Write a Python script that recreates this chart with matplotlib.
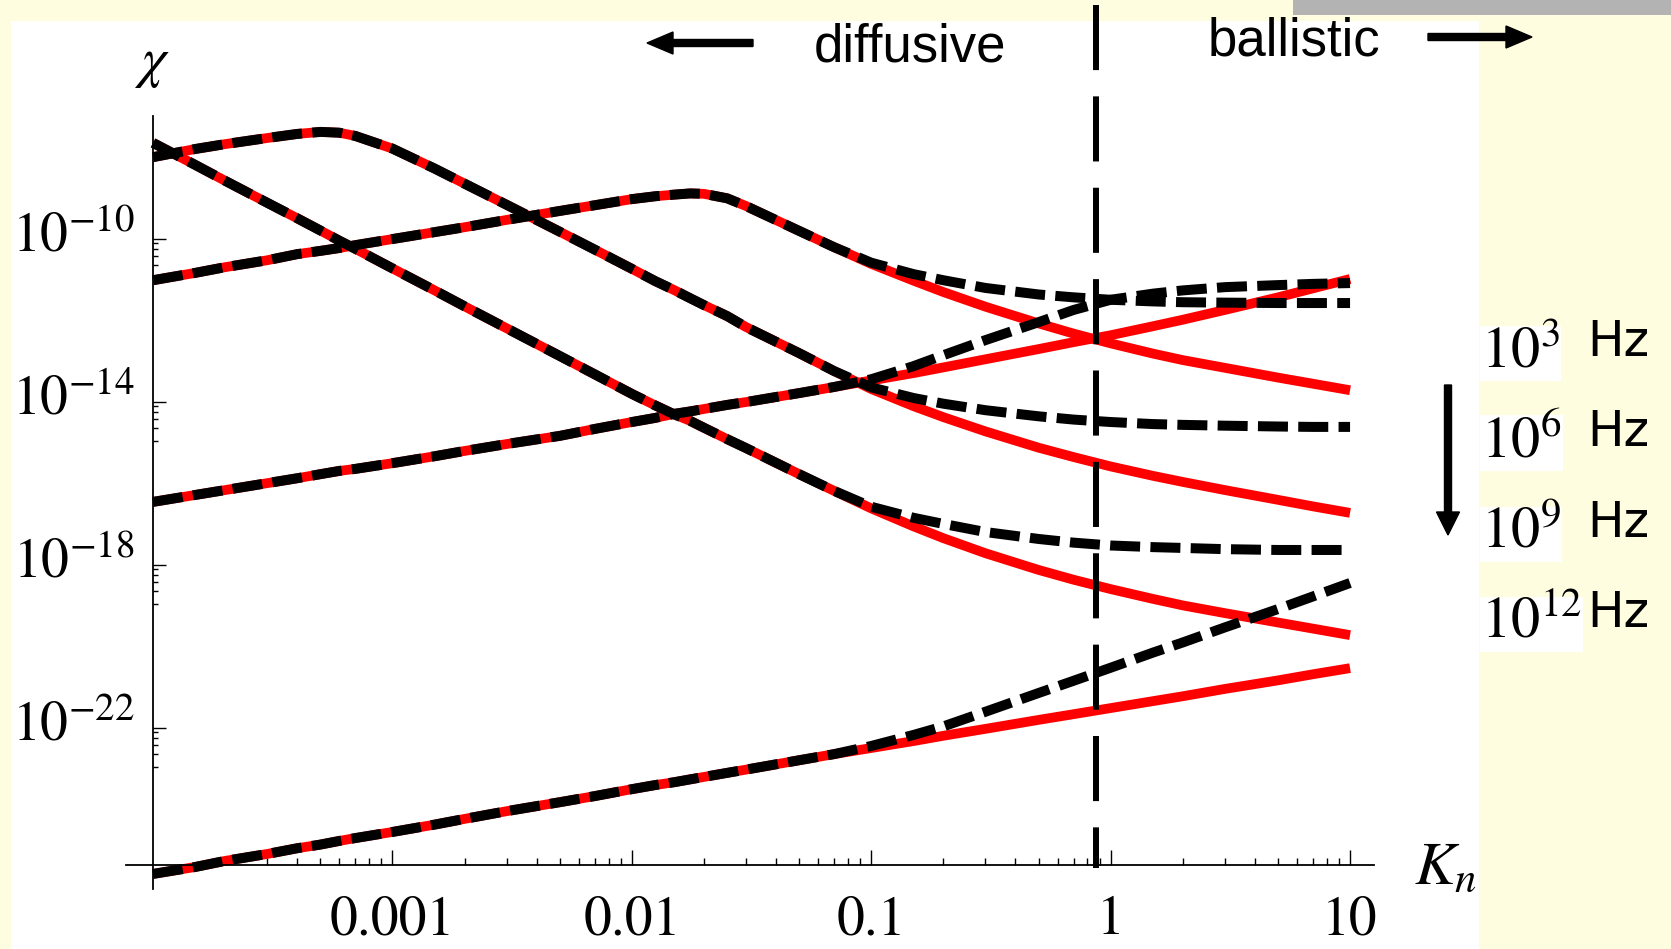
import matplotlib
matplotlib.use("Agg")
import matplotlib.pyplot as plt
import numpy as np
from matplotlib.patches import Rectangle, FancyArrow
from matplotlib.transforms import IdentityTransform, ScaledTranslation
from matplotlib.ticker import FixedLocator, FixedFormatter, NullFormatter

plt.rcParams['mathtext.fontset'] = 'stix'
plt.rcParams['font.family'] = ['STIXGeneral', 'DejaVu Sans']

W, H = 1671, 949

# Knudsen number grid (shared by all curves)
kn = [1e-4, 1.5e-4, 2e-4, 3e-4, 4e-4, 5e-4, 6e-4, 7e-4,
      1e-3, 1.5e-3, 2e-3, 3e-3, 5e-3, 7e-3,
      1e-2, 1.25e-2, 1.5e-2, 1.75e-2, 2e-2, 2.5e-2, 3e-2, 5e-2, 7e-2,
      0.1, 0.15, 0.2, 0.3, 0.5, 0.7, 1, 1.5, 2, 3, 5, 7, 10]

# log10(chi); the two models coincide up to Kn = 0.07, then split
c1_common = [-7.64, -8.18, -8.57, -9.11, -9.49, -9.79, -10.04, -10.24, -10.72, -11.26, -11.65, -12.19,
             -12.87, -13.32, -13.80, -14.08, -14.30, -14.46, -14.63, -14.91, -15.13, -15.77, -16.18]
c1_red = [-16.61, -17.05, -17.34, -17.71, -18.12, -18.36, -18.59, -18.83, -18.99, -19.18, -19.41, -19.56, -19.72]
c1_black = [-16.57, -16.84, -16.99, -17.19, -17.36, -17.45, -17.52, -17.56, -17.58, -17.61, -17.63, -17.63, -17.63]

c2_common = [-7.99, -7.79, -7.67, -7.52, -7.42, -7.37, -7.39, -7.47, -7.78, -8.27, -8.64, -9.16,
             -9.82, -10.26, -10.73, -11.03, -11.25, -11.45, -11.62, -11.89, -12.16, -12.80, -13.24]
c2_red = [-13.68, -14.10, -14.37, -14.72, -15.12, -15.35, -15.58, -15.81, -15.96, -16.16, -16.40, -16.56, -16.72]
c2_black = [-13.64, -13.90, -14.04, -14.20, -14.35, -14.43, -14.49, -14.54, -14.56, -14.58, -14.60, -14.61, -14.61]

c3_common = [-11.01, -10.83, -10.69, -10.52, -10.37, -10.29, -10.22, -10.15, -10.00, -9.83, -9.71, -9.53,
             -9.31, -9.17, -9.02, -8.95, -8.91, -8.88, -8.89, -9.00, -9.19, -9.80, -10.20]
c3_red = [-10.61, -11.02, -11.30, -11.66, -12.07, -12.32, -12.56, -12.81, -12.97, -13.16, -13.40, -13.55, -13.71]
c3_black = [-10.58, -10.86, -11.01, -11.20, -11.36, -11.43, -11.49, -11.53, -11.55, -11.56, -11.57, -11.57, -11.57]

c4_common = [-16.45, -16.28, -16.16, -15.99, -15.87, -15.77, -15.69, -15.64, -15.50, -15.33, -15.20, -15.03,
             -14.83, -14.66, -14.49, -14.39, -14.29, -14.23, -14.17, -14.07, -14.00, -13.78, -13.63]
c4_red = [-13.47, -13.29, -13.15, -12.95, -12.70, -12.53, -12.36, -12.14, -11.98, -11.74, -11.43, -11.21, -10.98]
c4_black = [-13.44, -13.12, -12.85, -12.48, -12.04, -11.74, -11.49, -11.34, -11.26, -11.18, -11.13, -11.10, -11.08]

c5_common = [-25.58, -25.41, -25.26, -25.09, -24.95, -24.86, -24.77, -24.70, -24.55, -24.37, -24.23, -24.04,
             -23.82, -23.67, -23.50, -23.40, -23.33, -23.26, -23.20, -23.10, -23.02, -22.79, -22.64]
c5_red = [-22.49, -22.32, -22.19, -22.02, -21.80, -21.66, -21.51, -21.34, -21.22, -21.04, -20.83, -20.68, -20.53]
c5_black = [-22.44, -22.17, -21.96, -21.60, -21.14, -20.84, -20.52, -20.15, -19.90, -19.53, -19.08, -18.77, -18.44]

curves = [(c1_common, c1_red, c1_black), (c2_common, c2_red, c2_black), (c3_common, c3_red, c3_black),
          (c4_common, c4_red, c4_black), (c5_common, c5_red, c5_black)]

kn_boundary = 0.87
x_ticks = [1e-3, 1e-2, 0.1, 1, 10]
x_labels = ['0.001', '0.01', '0.1', '1', '10']
y_ticks = [1e-10, 1e-14, 1e-18, 1e-22]
y_labels = [r'$10^{-10}$', r'$10^{-14}$', r'$10^{-18}$', r'$10^{-22}$']
y_minor_offsets = [0.105, 0.253, 0.425, 0.64, 0.96]  # decades below each labelled tick
freq_labels = [r'$10^{3}$', r'$10^{6}$', r'$10^{9}$', r'$10^{12}$']


def fx(x):
    return x / W


def fy(y):
    return 1 - y / H


fig = plt.figure(figsize=(W / 100, H / 100), dpi=100)
fig.patch.set_facecolor('#FFFDE0')
fig.add_artist(Rectangle((fx(11), 0), (1479 - 11) / W, (H - 21) / H, transform=fig.transFigure,
                         facecolor='white', edgecolor='none', zorder=0))
fig.add_artist(Rectangle((fx(1293), fy(15)), (W - 1293) / W, 15 / H, transform=fig.transFigure,
                         facecolor='#B3B3B3', edgecolor='none', zorder=0))

ax = fig.add_axes([126 / W, (H - 889) / H, 1248 / W, 773 / H])
ax.patch.set_alpha(0)
ax.set_xscale('log')
ax.set_yscale('log')
ax.set_xlim(10 ** -4.113, 10 ** 1.10)
ax.set_ylim(10 ** -25.95, 10 ** -6.98)

knx = np.array(kn)
for common, red, black in curves:
    yr = 10 ** np.array(common + red)
    yb = 10 ** np.array(common + black)
    ax.plot(knx, yr, color='red', lw=7, solid_capstyle='butt', solid_joinstyle='round', zorder=2)
    ax.plot(knx, yb, color='black', lw=7.2, dashes=(3.0, 1.03), dash_capstyle='butt',
            dash_joinstyle='round', zorder=3)

# diffusive / ballistic boundary
ax.plot([kn_boundary, kn_boundary], [1.1436, 0.027], transform=ax.get_xaxis_transform(),
        color='black', lw=4.3, dashes=(10.9, 4.4), clip_on=False, zorder=4)

for s in ['top', 'right']:
    ax.spines[s].set_visible(False)
ax.spines['left'].set_position(('data', 1e-4))
ax.spines['bottom'].set_position(('data', 10 ** -25.36))
for s in ['left', 'bottom']:
    ax.spines[s].set_linewidth(1.3)

ax.xaxis.set_major_locator(FixedLocator(x_ticks))
ax.xaxis.set_major_formatter(FixedFormatter(x_labels))
x_minor = [k * 10.0 ** e for e in range(-4, 1) for k in range(2, 10)]
ax.xaxis.set_minor_locator(FixedLocator(x_minor))
ax.xaxis.set_minor_formatter(NullFormatter())

ax.yaxis.set_major_locator(FixedLocator(y_ticks))
ax.yaxis.set_major_formatter(FixedFormatter(y_labels))
y_minor = [t * 10 ** -d for t in y_ticks for d in y_minor_offsets]
ax.yaxis.set_minor_locator(FixedLocator(y_minor))
ax.yaxis.set_minor_formatter(NullFormatter())

ax.tick_params(axis='x', which='major', direction='in', length=11, width=1, labelsize=40, pad=22)
ax.tick_params(axis='x', which='minor', direction='in', length=5, width=1)
ax.tick_params(axis='y', which='major', direction='in', length=9.5, width=1, labelsize=40, pad=13)
ax.tick_params(axis='y', which='minor', direction='in', length=3.8, width=1)

# lift the y labels so the "10" sits on the tick, superscript above
lift = ScaledTranslation(0, 7 / 100, fig.dpi_scale_trans)
for t in ax.yaxis.get_major_ticks():
    t.label1.set_transform(t.label1.get_transform() + lift)

# axis labels
fig.text(fx(152), fy(65), r'$\chi$', fontsize=40, ha='center', va='center')
fig.text(fx(1414), fy(884), r'$K_n$', fontsize=44, ha='left', va='baseline')

# regime annotations
fig.text(fx(910), fy(62), 'diffusive', fontsize=38, family='Liberation Sans', ha='center', va='baseline')
fig.text(fx(1294), fy(55), 'ballistic', fontsize=38, family='Liberation Sans', ha='center', va='baseline')
fig.add_artist(FancyArrow(753, H - 43, -106, 0, width=7, head_width=22, head_length=26,
                          length_includes_head=True, color='black', transform=IdentityTransform()))
fig.add_artist(FancyArrow(1428, H - 37, 104, 0, width=7, head_width=22, head_length=26,
                          length_includes_head=True, color='black', transform=IdentityTransform()))
fig.add_artist(FancyArrow(1448, H - 385, 0, -150, width=7, head_width=23, head_length=23,
                          length_includes_head=True, color='black', transform=IdentityTransform()))

# frequency labels
hz_base = [356, 446, 537, 627]
for lab, yb in zip(freq_labels, hz_base):
    fig.text(fx(1481), fy(yb + 11), lab, fontsize=42, ha='left', va='baseline',
             bbox=dict(facecolor='white', edgecolor='none', pad=1))
    fig.text(fx(1587), fy(yb), 'Hz', fontsize=35, family='DejaVu Sans', ha='left', va='baseline')

fig.savefig('out.png', dpi=100, facecolor=fig.get_facecolor())
